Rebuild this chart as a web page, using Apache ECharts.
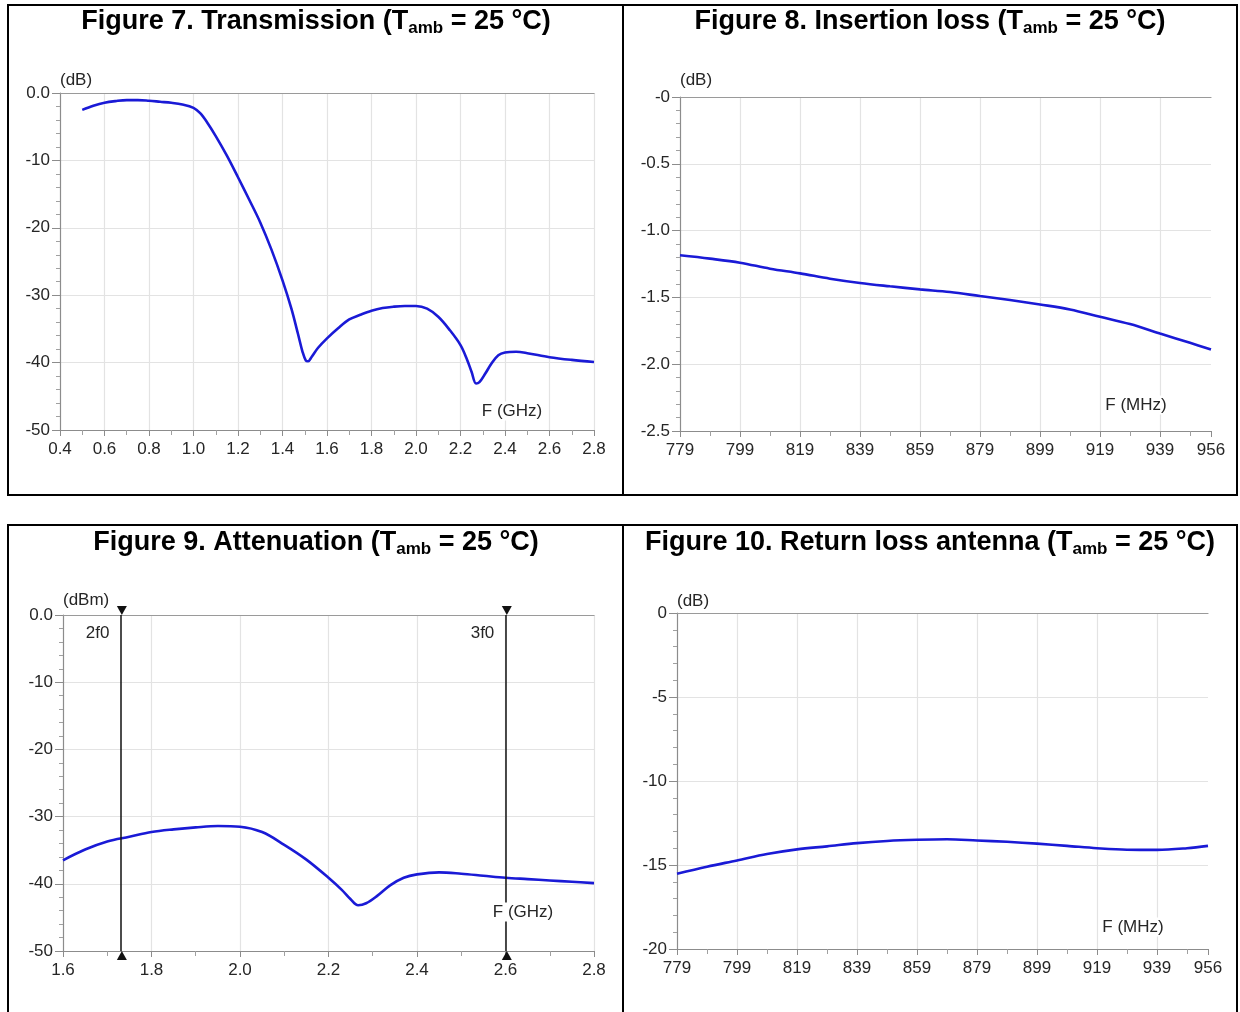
<!DOCTYPE html>
<html>
<head>
<meta charset="utf-8">
<script src="https://cdn.jsdelivr.net/npm/echarts@6/dist/echarts.min.js"></script>
<style>
html,body{margin:0;padding:0;background:#fff}
#c{width:1240px;height:1012px}
</style>
</head>
<body>
<div id="c"></div>
<script>
// ---------- Figure 7: Transmission ----------
const fig7Freq = [0.5, 0.55, 0.6, 0.65, 0.7, 0.75, 0.8, 0.85, 0.9, 0.95, 1.0, 1.03, 1.06, 1.1, 1.15, 1.2, 1.25, 1.3, 1.35, 1.4, 1.44, 1.47, 1.49, 1.505, 1.515, 1.53, 1.56, 1.6, 1.65, 1.7, 1.75, 1.8, 1.85, 1.9, 1.95, 2.0, 2.05, 2.1, 2.15, 2.2, 2.23, 2.25, 2.27, 2.285, 2.31, 2.34, 2.37, 2.4, 2.45, 2.5, 2.6, 2.7, 2.8];
const fig7Trans = [-2.5, -1.9, -1.45, -1.2, -1.05, -1.05, -1.15, -1.3, -1.45, -1.7, -2.2, -3.0, -4.3, -6.4, -9.3, -12.5, -15.8, -19.2, -23.2, -27.8, -32.0, -35.8, -38.4, -39.7, -39.8, -39.2, -37.8, -36.4, -34.9, -33.6, -32.9, -32.3, -31.9, -31.7, -31.6, -31.6, -32.0, -33.2, -35.1, -37.4, -39.6, -41.4, -43.1, -42.9, -41.7, -40.1, -38.9, -38.5, -38.4, -38.6, -39.2, -39.6, -39.9];
const fig7XLabels = ['0.4','0.6','0.8','1.0','1.2','1.4','1.6','1.8','2.0','2.2','2.4','2.6','2.8'];
const fig7YLabels = ['-50','-40','-30','-20','-10','0.0'];

// ---------- Figure 8: Insertion loss ----------
const fig8Freq = [779, 789, 799, 809, 819, 829, 839, 849, 859, 869, 879, 889, 899, 909, 919, 929, 939, 949, 956];
const fig8Loss = [-1.185, -1.21, -1.24, -1.285, -1.32, -1.36, -1.392, -1.417, -1.44, -1.46, -1.49, -1.52, -1.553, -1.59, -1.645, -1.70, -1.77, -1.84, -1.89];
const fig8XLabels = ['779','799','819','839','859','879','899','919','939','956'];
const fig8YLabels = ['-2.5','-2.0','-1.5','-1.0','-0.5','-0'];

// ---------- Figure 9: Attenuation ----------
const fig9Freq = [1.6, 1.65, 1.7, 1.75, 1.8, 1.85, 1.9, 1.95, 2.0, 2.05, 2.1, 2.15, 2.2, 2.23, 2.25, 2.267, 2.285, 2.31, 2.34, 2.37, 2.4, 2.45, 2.5, 2.55, 2.6, 2.65, 2.7, 2.75, 2.8];
const fig9Atten = [-36.5, -34.9, -33.7, -33.0, -32.3, -31.9, -31.6, -31.4, -31.5, -32.3, -34.2, -36.4, -39.1, -40.9, -42.3, -43.2, -42.9, -41.8, -40.2, -39.1, -38.6, -38.3, -38.5, -38.8, -39.1, -39.3, -39.5, -39.7, -39.9];
const fig9XLabels = ['1.6','1.8','2.0','2.2','2.4','2.6','2.8'];
const fig9YLabels = ['-50','-40','-30','-20','-10','0.0'];
const markerFreqs = [1.733, 2.603];
const markerLabels = ['2f0', '3f0'];

// ---------- Figure 10: Return loss antenna ----------
const fig10Freq = [779, 789, 799, 809, 819, 829, 839, 849, 859, 869, 879, 889, 899, 909, 919, 929, 939, 949, 956];
const fig10RL = [-15.52, -15.1, -14.73, -14.35, -14.07, -13.89, -13.70, -13.57, -13.50, -13.47, -13.54, -13.62, -13.73, -13.86, -14.0, -14.09, -14.1, -14.0, -13.86];
const fig10XLabels = ['779','799','819','839','859','879','899','919','939','956'];
const fig10YLabels = ['-20','-15','-10','-5','0'];

const FONT = "'Liberation Sans', Arial, Helvetica, sans-serif";
const BLUE = '#1a1ad6';
const AXIS = '#8c8c8c';
const GRIDC = '#e3e3e3';
const TXT = '#262626';

function pairs(xs, ys) { return xs.map((x, i) => [x, ys[i]]); }
function lookup(labels) { return (v, i) => (labels[i] !== undefined ? labels[i] : ''); }

function xAxisB(gi, min, max, interval, minorSplit, labels, showMaxLine) {
  return {
    type: 'value', gridIndex: gi, min: min, max: max, interval: interval,
    axisLine: { show: true, onZero: false, lineStyle: { color: AXIS, width: 1.2 } },
    axisTick: { show: true, length: 6, lineStyle: { color: AXIS } },
    minorTick: { show: true, splitNumber: minorSplit, length: 5, lineStyle: { color: '#a0a0a0' } },
    axisLabel: { margin: 11, fontSize: 17, color: TXT, fontFamily: FONT, formatter: lookup(labels), showMinLabel: true, showMaxLabel: true, hideOverlap: false },
    splitLine: { show: true, showMinLine: false, showMaxLine: showMaxLine, lineStyle: { color: GRIDC, width: 1.2 } },
    minorSplitLine: { show: false }
  };
}
function xAxisT(gi, min, max) {
  return {
    type: 'value', gridIndex: gi, position: 'top', min: min, max: max,
    axisLine: { show: true, onZero: false, lineStyle: { color: '#9a9a9a', width: 1.2 } },
    axisTick: { show: false }, axisLabel: { show: false }, splitLine: { show: false }
  };
}
function yAxis(gi, min, max, interval, minorSplit, labels, name, nameGap) {
  return {
    type: 'value', gridIndex: gi, min: min, max: max, interval: interval,
    name: name, nameLocation: 'end', nameGap: nameGap,
    nameTextStyle: { align: 'left', fontSize: 17, color: TXT, fontFamily: FONT },
    axisLine: { show: true, onZero: false, lineStyle: { color: AXIS, width: 1.2 } },
    axisTick: { show: true, length: 8, lineStyle: { color: AXIS } },
    minorTick: { show: true, splitNumber: minorSplit, length: 4, lineStyle: { color: '#a0a0a0' } },
    axisLabel: { margin: 10, fontSize: 17, color: TXT, fontFamily: FONT, formatter: lookup(labels), showMinLabel: true, showMaxLabel: true },
    splitLine: { show: true, showMinLine: false, showMaxLine: false, lineStyle: { color: GRIDC, width: 1.2 } }
  };
}
function lineSeries(xi, yi, data, extra) {
  return Object.assign({
    type: 'line', xAxisIndex: xi, yAxisIndex: yi, data: data,
    showSymbol: false, symbol: 'none', smooth: 0.35,
    lineStyle: { color: BLUE, width: 2.6 }, itemStyle: { color: BLUE },
    animation: false, silent: true, z: 3
  }, extra || {});
}

function title(x, y, main, rest) {
  return {
    type: 'text', x: x, y: y, z: 100,
    style: {
      text: '{b|' + main + '}{s|amb}{b|' + rest + '}',
      align: 'center', verticalAlign: 'middle',
      rich: {
        b: { fontSize: 27, fontWeight: 'bold', fontFamily: FONT, fill: '#000', lineHeight: 30 },
        s: { fontSize: 17, fontWeight: 'bold', fontFamily: FONT, fill: '#000', lineHeight: 16, verticalAlign: 'bottom' }
      }
    }
  };
}
function unitLabel(x, y, t) {
  return {
    type: 'text', x: x, y: y, z: 100,
    style: { text: t, fontSize: 17, fontFamily: FONT, fill: TXT, align: 'center', verticalAlign: 'middle', backgroundColor: '#fff', padding: [1, 3] }
  };
}
function ln(x1, y1, x2, y2) {
  return { type: 'line', z: 100, shape: { x1: x1, y1: y1, x2: x2, y2: y2 }, style: { stroke: '#000', lineWidth: 2 } };
}

const markerPoints = [];
markerFreqs.forEach((f, i) => {
  markerPoints.push({ coord: [f, 0], symbol: 'triangle', symbolSize: [10, 9], symbolRotate: 180, symbolOffset: [0, -4.5], itemStyle: { color: '#111' }, label: { show: false } });
  markerPoints.push({ coord: [f, -50], symbol: 'triangle', symbolSize: [10, 9], symbolOffset: [0, 4.5], itemStyle: { color: '#111' }, label: { show: false } });
  markerPoints.push({ coord: [f, -2.7], symbol: 'circle', symbolSize: 1, itemStyle: { color: 'rgba(0,0,0,0)' },
    label: { show: true, formatter: markerLabels[i], position: 'left', distance: 12, fontSize: 17, color: TXT, fontFamily: FONT } });
});

const chart = echarts.init(document.getElementById('c'), null, { renderer: 'canvas' });
chart.setOption({
  backgroundColor: '#fff',
  animation: false,
  textStyle: { fontFamily: FONT },
  grid: [
    { left: 60, top: 93, width: 534, height: 337 },
    { left: 680, top: 97, width: 531, height: 334 },
    { left: 63, top: 615, width: 531, height: 336 },
    { left: 677, top: 613, width: 531, height: 336 }
  ],
  xAxis: [
    xAxisB(0, 0.4, 2.8, 0.2, 2, fig7XLabels, true),
    xAxisB(1, 779, 956, 20, 2, fig8XLabels, false),
    xAxisB(2, 1.6, 2.8, 0.2, 2, fig9XLabels, true),
    xAxisB(3, 779, 956, 20, 2, fig10XLabels, false),
    xAxisT(0, 0.4, 2.8), xAxisT(1, 779, 956), xAxisT(2, 1.6, 2.8), xAxisT(3, 779, 956)
  ],
  yAxis: [
    yAxis(0, -50, 0, 10, 5, fig7YLabels, '(dB)', 4),
    yAxis(1, -2.5, 0, 0.5, 5, fig8YLabels, '(dB)', 8),
    yAxis(2, -50, 0, 10, 5, fig9YLabels, '(dBm)', 6),
    yAxis(3, -20, 0, 5, 5, fig10YLabels, '(dB)', 3)
  ],
  series: [
    lineSeries(0, 0, pairs(fig7Freq, fig7Trans)),
    lineSeries(1, 1, pairs(fig8Freq, fig8Loss)),
    lineSeries(2, 2, pairs(fig9Freq, fig9Atten), {
      clip: false,
      markLine: {
        silent: true, animation: false, symbol: ['none', 'none'],
        lineStyle: { color: '#111', width: 1.5, type: 'solid' },
        label: { show: false }, emphasis: { disabled: true },
        data: markerFreqs.map(f => ({ xAxis: f }))
      },
      markPoint: { silent: true, animation: false, data: markerPoints }
    }),
    lineSeries(3, 3, pairs(fig10Freq, fig10RL))
  ],
  graphic: [
    ln(8, 5, 1238, 5), ln(8, 495, 1238, 495), ln(8, 4, 8, 496), ln(1237, 4, 1237, 496), ln(623, 4, 623, 496),
    ln(8, 525, 1238, 525), ln(8, 524, 8, 1014), ln(1237, 524, 1237, 1014), ln(623, 524, 623, 1014),
    title(316, 22, 'Figure 7. Transmission (T', ' = 25 °C)'),
    title(930, 22, 'Figure 8. Insertion loss (T', ' = 25 °C)'),
    title(316, 543, 'Figure 9. Attenuation (T', ' = 25 °C)'),
    title(930, 543, 'Figure 10. Return loss antenna (T', ' = 25 °C)'),
    unitLabel(512, 411, 'F (GHz)'),
    unitLabel(1136, 405, 'F (MHz)'),
    unitLabel(523, 912, 'F (GHz)'),
    unitLabel(1133, 927, 'F (MHz)')
  ]
});
</script>
</body>
</html>
